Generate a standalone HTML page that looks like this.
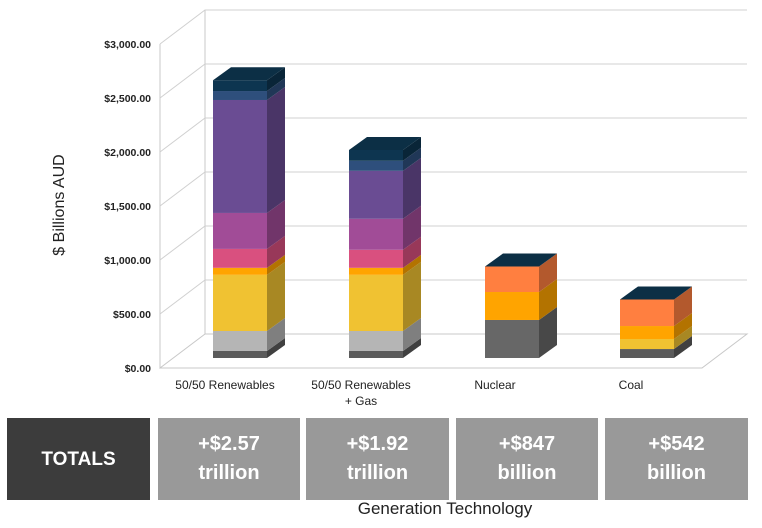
<!DOCTYPE html>
<html><head><meta charset="utf-8"><style>
body{margin:0;background:#fff;width:762px;height:528px;overflow:hidden;font-family:"Liberation Sans",sans-serif}
.box{position:absolute;top:418px;height:82px;background:#999;color:#fff;font-weight:bold;font-size:20px;text-align:center;line-height:29px;display:flex;align-items:center;justify-content:center}
</style></head><body>
<svg id="chart" width="762" height="410" style="position:absolute;left:0;top:0" font-family="Liberation Sans, sans-serif"></svg>
<div class="box" style="left:7px;width:143px;background:#3c3c3c;font-size:19px">TOTALS</div>
<div class="box" style="left:158px;width:142px">+$2.57<br>trillion</div>
<div class="box" style="left:306px;width:143px">+$1.92<br>trillion</div>
<div class="box" style="left:456px;width:142px">+$847<br>billion</div>
<div class="box" style="left:605px;width:143px">+$542<br>billion</div>
<div style="position:absolute;left:300px;width:290px;text-align:center;top:499px;font-size:17px;color:#222">Generation Technology</div>
<script>
const categories=["50/50 Renewables","50/50 Renewables + Gas","Nuclear","Coal"];
const seriesColors=["#5b5b5b","#b5b5b5","#f0c232","#ffa400","#d9507f","#a14c97","#6a4c93","#2e4f7c","#0d3550"];
const renewables=[65,185,520,65,175,333,1046,83,100];
const renewablesGas=[65,185,520,65,167,287,444,93,100];
const nuclearSeg=[352,259,236];
const nuclearColors=["#676767","#ffa400","#ff7f40"];
const coalSeg=[83,93,120,246];
const coalColors=["#5b5b5b","#f0c232","#ffa400","#ff7f40"];
const yTicks=[0,500,1000,1500,2000,2500,3000];
const yTickLabels=["$0.00","$500.00","$1,000.00","$1,500.00","$2,000.00","$2,500.00","$3,000.00"];
const svg=document.getElementById('chart');
const NS="http://www.w3.org/2000/svg";
const K=0.108, FRONT=368, BAR0=358;
const yF=v=>FRONT-v*K;
const yB=v=>BAR0-v*K;
const barX=[213,349,485,620], BW=54, DX=18, DY=-13;
function mk(t,a,p){const e=document.createElementNS(NS,t);for(const k in a)e.setAttribute(k,a[k]);(p||svg).appendChild(e);return e;}
function shade(c,f){const n=parseInt(c.slice(1),16);const r=Math.round((n>>16)*f),g=Math.round(((n>>8)&255)*f),b=Math.round((n&255)*f);return `rgb(${r},${g},${b})`;}
const wall=mk('path',{d:`M160 ${yF(3000)} L160 ${FRONT} L205 ${FRONT-34} L205 ${yF(3000)-34} M205 ${FRONT-34} L747 ${FRONT-34} L702 ${FRONT} L160 ${FRONT}`,fill:'none',stroke:'#c8c8c8','stroke-width':1});


yTicks.forEach((v,i)=>{
  const y=yF(v);
  if(v>0){const g=mk('polyline',{points:`160,${y} 205,${y-34} 747,${y-34}`,fill:'none',stroke:'#d0d0d0','stroke-width':1});
  
  }
  const t=mk('text',{x:151,y:y+4,'text-anchor':'end','font-size':10.5,'font-weight':'bold',fill:'#222'});t.textContent=yTickLabels[i];
  
  
});
const yt=mk('text',{x:0,y:0,transform:'translate(64,205) rotate(-90)','text-anchor':'middle','font-size':16,fill:'#222'});yt.textContent='$ Billions AUD';


function bar(i,vals,cols){
  const x=barX[i];let cum=0;
  vals.forEach((v,j)=>{
    const y1=yB(cum),y2=yB(cum+v);const c=cols[j];
    const f=mk('rect',{x:x,y:y2,width:BW,height:y1-y2,fill:c});
    
    
    const s=mk('polygon',{points:`${x+BW},${y1} ${x+BW+DX},${y1+DY} ${x+BW+DX},${y2+DY} ${x+BW},${y2}`,fill:shade(c,0.7)});
    
    
    cum+=v;
  });
  const yt=yB(cum);
  const top=mk('polygon',{points:`${x},${yt} ${x+BW},${yt} ${x+BW+DX},${yt+DY} ${x+DX},${yt+DY}`,fill:'#0c2f45'});
  
  
}
bar(0,renewables,seriesColors);
bar(1,renewablesGas,seriesColors);
bar(2,nuclearSeg,nuclearColors);
bar(3,coalSeg,coalColors);
const lx=[225,361,495,631];
categories.forEach((c,i)=>{
  const parts=c==="50/50 Renewables + Gas"?["50/50 Renewables","+ Gas"]:[c];
  parts.forEach((p,k)=>{const t=mk('text',{x:lx[i],y:389+k*16,'text-anchor':'middle','font-size':12,fill:'#222'});t.textContent=p;
  
  });
});
</script>
</body></html>
